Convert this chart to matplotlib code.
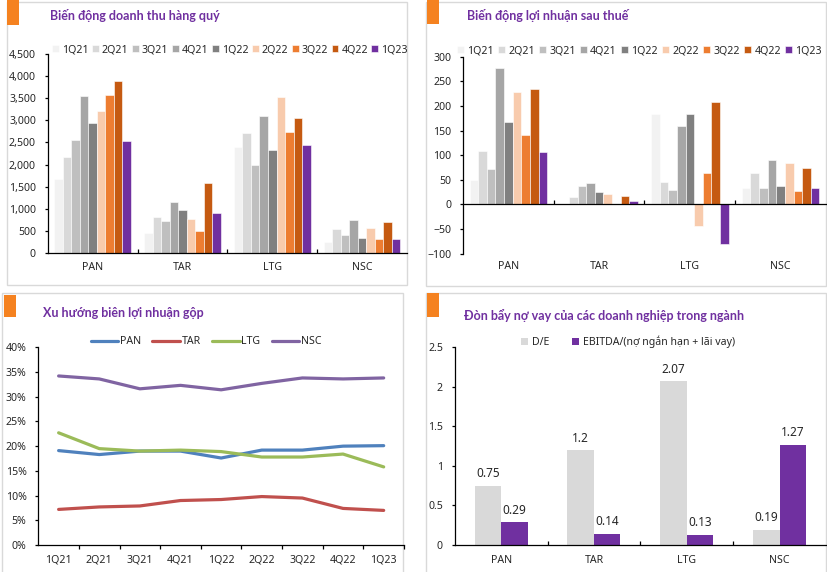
import numpy as np
import matplotlib
matplotlib.use("Agg")
import matplotlib.pyplot as plt
from matplotlib.patches import Rectangle
from matplotlib.ticker import FuncFormatter, FixedLocator

plt.rcParams['font.family'] = ['Noto Sans', 'DejaVu Sans']

W, H = 828, 572

# ---- data ----
companies = ['PAN', 'TAR', 'LTG', 'NSC']
quarters = ['1Q21', '2Q21', '3Q21', '4Q21', '1Q22', '2Q22', '3Q22', '4Q22', '1Q23']
quarter_colors = ['#F2F2F2', '#D9D9D9', '#BFBFBF', '#A6A6A6', '#808080',
                  '#F8CBAD', '#ED7D31', '#C55A11', '#7030A0']

# revenue by quarter (rows = quarter, cols = company)
revenue = [
    [1680, 440, 2400, 250],
    [2160, 800, 2720, 530],
    [2560, 730, 2000, 410],
    [3560, 1160, 3110, 750],
    [2950, 960, 2340, 330],
    [3220, 770, 3540, 570],
    [3580, 500, 2730, 310],
    [3900, 1580, 3060, 690],
    [2530, 900, 2450, 320],
]

# net profit after tax by quarter
profit = [
    [50, 1, 183, 33],
    [108, 15, 46, 64],
    [72, 37, 30, 33],
    [278, 43, 159, 91],
    [168, 26, 183, 37],
    [228, 22, -43, 84],
    [142, 1, 63, 27],
    [234, 17, 208, 74],
    [106, 8, -80, 34],
]

# gross margin trend (%)
margin_pan = [19.1, 18.3, 19.0, 19.0, 17.6, 19.2, 19.2, 20.0, 20.1]
margin_tar = [7.2, 7.7, 7.9, 9.0, 9.2, 9.8, 9.5, 7.4, 7.0]
margin_ltg = [22.7, 19.5, 19.0, 19.2, 18.9, 17.8, 17.8, 18.4, 15.8]
margin_nsc = [34.2, 33.6, 31.6, 32.3, 31.4, 32.7, 33.8, 33.6, 33.8]
margin_colors = ['#4F81BD', '#C0504D', '#9BBB59', '#8064A2']

# leverage
de_ratio = [0.75, 1.2, 2.07, 0.19]
ebitda_ratio = [0.29, 0.14, 0.13, 1.27]

TITLE_COLOR = '#7030A0'
ORANGE = '#F58220'
TXT = '#262626'
FS = 7.6

fig = plt.figure(figsize=(W / 100, H / 100), dpi=100)


def fx(x):
    return x / W


def fy(y):
    return 1 - y / H


def px_axes(x0, y_top, x1, y_bot):
    return fig.add_axes([fx(x0), fy(y_bot), (x1 - x0) / W, (y_bot - y_top) / H])


def panel(x0, y0, x1, y1, ox, oy0, oy1, title, tx, ty):
    fig.patches.append(Rectangle((fx(x0), fy(y1)), (x1 - x0) / W, (y1 - y0) / H,
                                 transform=fig.transFigure, facecolor='white',
                                 edgecolor='#D9D9D9', linewidth=1, zorder=-3))
    fig.patches.append(Rectangle((fx(ox), fy(oy1)), 12 / W, (oy1 - oy0) / H,
                                 transform=fig.transFigure, facecolor=ORANGE,
                                 edgecolor='none', zorder=-2))
    fig.text(fx(tx), fy(ty), title, color=TITLE_COLOR, fontsize=9.0,
             fontweight='bold', va='center', ha='left',
             family=['Lato', 'Noto Sans', 'DejaVu Sans'])


def style_axes(ax):
    for s in ['top', 'right']:
        ax.spines[s].set_visible(False)
    for s in ['left', 'bottom']:
        ax.spines[s].set_color('black')
        ax.spines[s].set_linewidth(0.9)
    ax.set_facecolor('none')
    ax.tick_params(axis='y', length=2.5, width=0.9, pad=6, labelsize=FS, labelcolor=TXT)
    ax.tick_params(axis='x', which='major', length=0, pad=7, labelsize=FS, labelcolor=TXT)
    ax.tick_params(axis='x', which='minor', length=3, width=0.9, direction='in')


panel(7, 2, 407, 285, 7, 0, 25, 'Biến động doanh thu hàng quý', 50, 16)
panel(426, 2, 826, 286, 427, 0, 24, 'Biến động lợi nhuận sau thuế', 467, 16)
panel(2, 293, 403, 574, 4, 295, 317, 'Xu hướng biên lợi nhuận gộp', 43, 313)
panel(426, 293, 826, 574, 427, 293, 317,
      'Đòn bẩy nợ vay của các doanh nghiệp trong ngành', 464, 315)

x = np.arange(len(companies))
bw = 0.095

# ---- revenue ----
ax1 = px_axes(47.7, 54.3, 407, 252.7)
style_axes(ax1)
bars1 = []
for i, q in enumerate(quarters):
    b = ax1.bar(x + (i - 4) * bw, revenue[i], width=bw, color=quarter_colors[i],
                edgecolor='white', linewidth=0.4, label=q)
    bars1.append(b)
ax1.set_xlim(-0.5, 3.5)
ax1.set_ylim(0, 4500)
ax1.set_yticks(np.arange(0, 4501, 500))
ax1.yaxis.set_major_formatter(FuncFormatter(lambda v, p: f'{v:,.0f}'))
ax1.set_xticks(x)
ax1.set_xticklabels(companies)
ax1.xaxis.set_minor_locator(FixedLocator([0.5, 1.5, 2.5]))
fig.legend(handles=bars1, loc='center', ncol=9, mode='expand',
           bbox_to_anchor=(fx(52), fy(57), (408 - 52) / W, 14 / H),
           frameon=False, fontsize=FS, handlelength=0.65, handleheight=0.65,
           handletextpad=0.3, borderpad=0, borderaxespad=0, labelcolor=TXT)

# ---- profit ----
ax2 = px_axes(463, 56.7, 826, 253.7)
style_axes(ax2)
bars2 = []
for i, q in enumerate(quarters):
    b = ax2.bar(x + (i - 4) * bw, profit[i], width=bw, color=quarter_colors[i],
                edgecolor='white', linewidth=0.4, label=q)
    bars2.append(b)
ax2.set_xlim(-0.5, 3.5)
ax2.set_ylim(-100, 300)
ax2.set_yticks(np.arange(-100, 301, 50))
ax2.spines['bottom'].set_position(('data', 0))
ax2.set_xticks([0.5, 1.5, 2.5])
ax2.set_xticklabels([])
ax2.tick_params(axis='x', which='major', length=3, width=0.9, direction='in')
for xi, c in zip(x, companies):
    ax2.text(xi, -0.065, c, transform=ax2.get_xaxis_transform(), ha='center',
             va='center', fontsize=FS, color=TXT)
fig.legend(handles=bars2, loc='center', ncol=9, mode='expand',
           bbox_to_anchor=(fx(457), fy(58), (822 - 457) / W, 14 / H),
           frameon=False, fontsize=FS, handlelength=0.65, handleheight=0.65,
           handletextpad=0.3, borderpad=0, borderaxespad=0, labelcolor=TXT)

# ---- gross margin ----
ax3 = px_axes(38.3, 347.3, 404, 545)
style_axes(ax3)
qx = np.arange(len(quarters))
for vals, name, col in zip([margin_pan, margin_tar, margin_ltg, margin_nsc],
                           companies, margin_colors):
    ax3.plot(qx, vals, color=col, linewidth=2.3, label=name, solid_capstyle='round')
ax3.set_xlim(-0.5, 8.5)
ax3.set_ylim(0, 40)
ax3.set_yticks(np.arange(0, 41, 5))
ax3.yaxis.set_major_formatter(FuncFormatter(lambda v, p: f'{v:.0f}%'))
ax3.set_xticks(qx)
ax3.set_xticklabels(quarters)
ax3.xaxis.set_minor_locator(FixedLocator(np.arange(0.5, 8.6, 1)))
ax3.tick_params(axis='x', which='minor', direction='out')
fig.legend(loc='center', ncol=4, bbox_to_anchor=(fx(206), fy(341.7)),
           frameon=False, fontsize=FS, handlelength=2.6, handletextpad=0.15,
           columnspacing=1.1, borderpad=0, labelcolor=TXT,
           handles=ax3.get_lines())

# ---- leverage ----
ax4 = px_axes(454.7, 347.3, 826, 545)
style_axes(ax4)
bw2 = 0.285
b_de = ax4.bar(x - bw2 / 2, de_ratio, width=bw2, color='#D9D9D9', label='D/E')
b_eb = ax4.bar(x + bw2 / 2, ebitda_ratio, width=bw2, color='#7030A0',
               label='EBITDA/(nợ ngắn hạn + lãi vay)')
for bars, vals in [(b_de, de_ratio), (b_eb, ebitda_ratio)]:
    for r, v in zip(bars, vals):
        ax4.annotate(f'{v:g}', (r.get_x() + r.get_width() / 2, v),
                     xytext=(0, 4), textcoords='offset points', ha='center',
                     va='bottom', fontsize=8.5, color=TXT)
ax4.set_xlim(-0.5, 3.5)
ax4.set_ylim(0, 2.5)
ax4.set_yticks([0, 0.5, 1, 1.5, 2, 2.5])
ax4.yaxis.set_major_formatter(FuncFormatter(lambda v, p: f'{v:g}'))
ax4.set_xticks(x)
ax4.set_xticklabels(companies)
ax4.xaxis.set_minor_locator(FixedLocator([0.5, 1.5, 2.5]))
fig.legend(handles=[b_de, b_eb], loc='center', ncol=2,
           bbox_to_anchor=(fx(628), fy(342)), frameon=False, fontsize=FS,
           handlelength=0.65, handleheight=0.65, handletextpad=0.35,
           columnspacing=2.2, borderpad=0, labelcolor=TXT)

fig.savefig('out.png', dpi=100)
